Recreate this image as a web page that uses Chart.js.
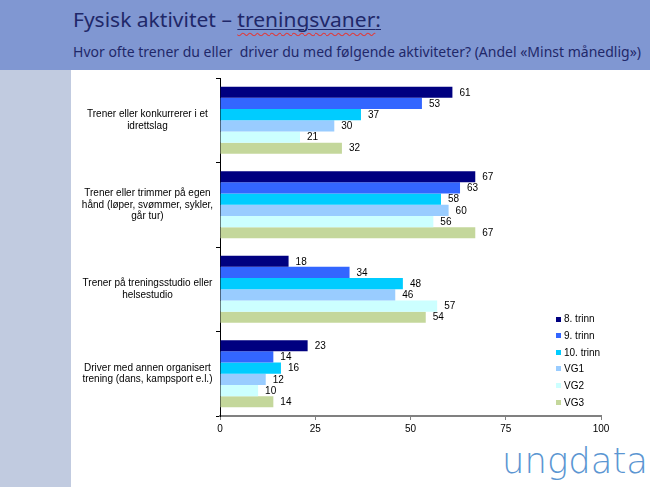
<!DOCTYPE html>
<html>
<head>
<meta charset="utf-8">
<script src="https://cdn.jsdelivr.net/npm/chart.js@4.4.0/dist/chart.umd.min.js"></script>
<style>
html,body{margin:0;padding:0;width:650px;height:487px;overflow:hidden;background:#fff;}
#hdr{position:absolute;left:0;top:0;width:650px;height:70px;background:#8097d2;}
#stripe{position:absolute;left:0;top:70px;width:71px;height:417px;background:#c1cbe0;}
.fit{position:absolute;white-space:nowrap;transform-origin:0 0;color:#1f2869;font-family:"Noto Sans","Open Sans",sans-serif;}
#title{left:73px;top:7.5px;font-size:20px;line-height:24px;}
#sub{left:73px;top:41px;font-size:15px;line-height:20px;}
#logo{left:502px;top:441px;font-family:"DejaVu Sans ExtraLight","DejaVu Sans",sans-serif;font-weight:200;font-size:35px;line-height:40px;color:#5b96d2;}
.spell{text-decoration:underline wavy #e03a3a;text-decoration-thickness:1px;text-underline-offset:5px;}
.ul{text-decoration:underline solid #1f2869;text-decoration-thickness:1px;text-underline-offset:2px;}
#c{position:absolute;left:0;top:0;}
</style>
</head>
<body>
<div id="hdr"></div>
<div id="stripe"></div>
<div id="title" class="fit" data-w="308">Fysisk aktivitet – <span class="spell"><span class="ul">treningsvaner</span></span><span class="ul">:</span></div>
<div id="sub" class="fit" data-w="568">Hvor ofte trener du eller&nbsp; driver du med følgende aktiviteter? (Andel «Minst månedlig»)</div>
<div id="logo" class="fit" data-w="146">ungdata</div>
<canvas id="c" width="650" height="487"></canvas>
<script>
// ---- data ----
const categories = [
  ["Trener eller konkurrerer i et", "idrettslag"],
  ["Trener eller trimmer på egen", "hånd (løper, svømmer, sykler,", "går tur)"],
  ["Trener på treningsstudio eller", "helsestudio"],
  ["Driver med annen organisert", "trening (dans, kampsport e.l.)"]
];
const seriesNames = ["8. trinn", "9. trinn", "10. trinn", "VG1", "VG2", "VG3"];
const trinn8  = [61, 67, 18, 23];
const trinn9  = [53, 63, 34, 14];
const trinn10 = [37, 58, 48, 16];
const vg1     = [30, 60, 46, 12];
const vg2     = [21, 56, 57, 10];
const vg3     = [32, 67, 54, 14];
const xTicks  = [0, 25, 50, 75, 100];

// ---- styles ----
const seriesColors = ["#000080", "#3366ff", "#00ccff", "#99ccff", "#ccffff", "#c4d79b"];
const FONT = '"Liberation Sans", Arial, sans-serif';

function fit() {
  document.querySelectorAll('.fit').forEach(el => {
    el.style.transform = 'none';
    const w = el.getBoundingClientRect().width;
    el.style.transform = 'scaleX(' + (parseFloat(el.dataset.w) / w) + ')';
  });
}
fit();
if (document.fonts && document.fonts.ready) document.fonts.ready.then(fit);

const valueLabels = {
  id: 'valueLabels',
  afterDatasetsDraw(chart) {
    const ctx = chart.ctx;
    ctx.save();
    ctx.font = '10px ' + FONT;
    ctx.fillStyle = '#000';
    ctx.textBaseline = 'middle';
    ctx.textAlign = 'left';
    chart.data.datasets.forEach((ds, i) => {
      chart.getDatasetMeta(i).data.forEach((bar, j) => {
        ctx.fillText(String(ds.data[j]), bar.x + 7, bar.y + 0.5);
      });
    });
    ctx.restore();
  }
};

const innerLegend = {
  id: 'innerLegend',
  afterDraw(chart) {
    const ctx = chart.ctx;
    ctx.save();
    ctx.font = '10px ' + FONT;
    ctx.textBaseline = 'middle';
    ctx.textAlign = 'left';
    chart.data.datasets.forEach((ds, i) => {
      const y = 319 + i * 16.65;
      ctx.fillStyle = ds.backgroundColor;
      ctx.fillRect(556, Math.round(y - 2.5), 5, 5);
      ctx.fillStyle = '#000';
      ctx.fillText(ds.label, 564, y + 0.5);
    });
    ctx.restore();
  }
};

const seriesData = [trinn8, trinn9, trinn10, vg1, vg2, vg3];

new Chart(document.getElementById('c'), {
  type: 'bar',
  data: {
    labels: categories,
    datasets: seriesNames.map((name, i) => ({
      label: name,
      data: seriesData[i],
      backgroundColor: seriesColors[i],
      borderWidth: 0,
      barPercentage: 1.0,
      categoryPercentage: 0.795
    }))
  },
  options: {
    indexAxis: 'y',
    responsive: false,
    animation: false,
    devicePixelRatio: 1,
    layout: { padding: { top: 78, right: 49, bottom: 41, left: 0 } },
    plugins: { legend: { display: false }, tooltip: { enabled: false }, title: { display: false } },
    scales: {
      x: {
        min: 0, max: 100,
        afterBuildTicks: s => { s.ticks = xTicks.map(v => ({ value: v })); },
        afterFit: s => { s.height = 30; },
        grid: { drawOnChartArea: false, drawTicks: true, tickLength: 4, color: '#808080', lineWidth: 1 },
        border: { display: true, color: '#808080', width: 2 },
        ticks: { font: { family: FONT, size: 10 }, color: '#000', padding: 3, maxRotation: 0 }
      },
      y: {
        afterFit: s => { s.width = 220; },
        grid: { drawOnChartArea: false, drawTicks: true, tickLength: 4, color: '#000', lineWidth: 1, offset: true },
        border: { display: true, color: '#000', width: 1 },
        ticks: { crossAlign: 'center', padding: 3, autoSkip: false, color: '#000', font: { family: FONT, size: 10, lineHeight: 1.15 } }
      }
    }
  },
  plugins: [valueLabels, innerLegend]
});
</script>
</body>
</html>
